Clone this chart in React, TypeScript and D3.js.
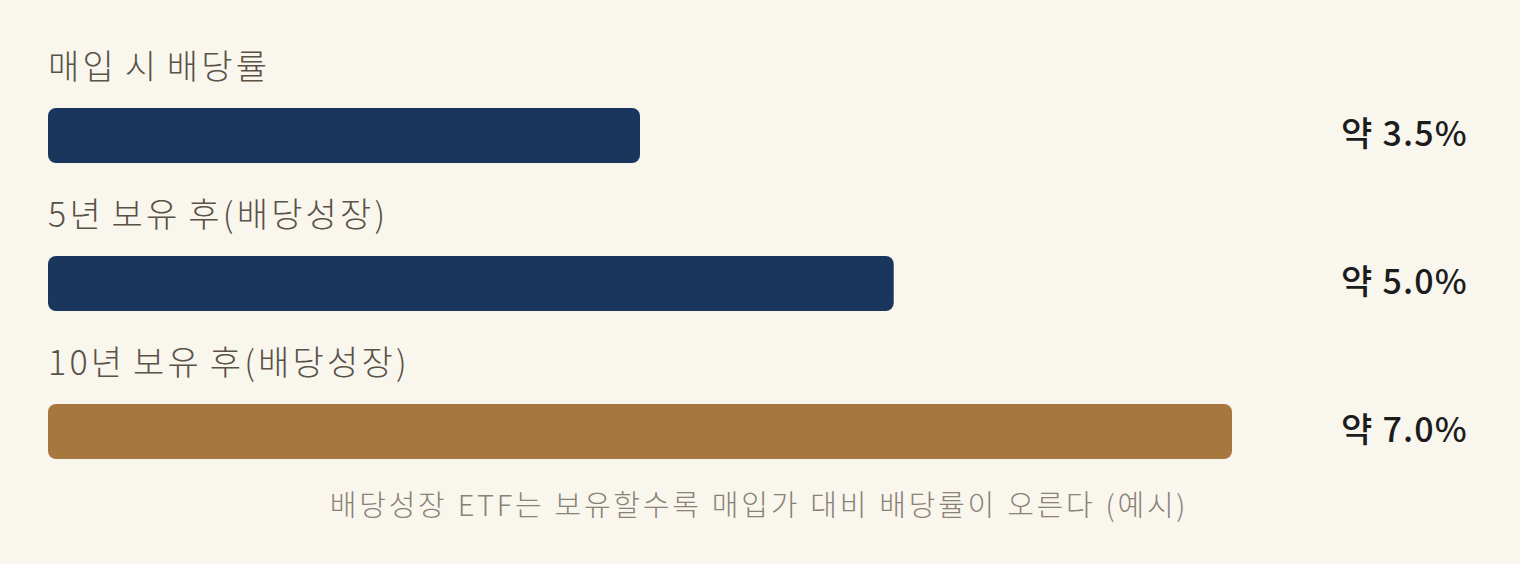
import React, { useEffect, useRef } from 'react';
import * as d3 from 'd3';

// chart data
const labels = ['매입 시 배당률', '5년 보유 후(배당성장)', '10년 보유 후(배당성장)'];
const values = [3.5, 5.0, 7.0];
const valueLabels = ['약 3.5%', '약 5.0%', '약 7.0%'];
const barColors = ['#1a365d', '#1a365d', '#a8763f'];
const caption = '배당성장 ETF는 보유할수록 매입가 대비 배당률이 오른다 (예시)';

const WIDTH = 1520;
const HEIGHT = 564;
const FONT = '"Noto Sans CJK KR", "Noto Sans", sans-serif';

const App: React.FC = () => {
  const svgRef = useRef<SVGSVGElement>(null);

  useEffect(() => {
    if (!svgRef.current) return;
    document.body.style.margin = '0';

    const svg = d3.select(svgRef.current);
    svg.selectAll('*').remove();

    svg.append('rect')
      .attr('width', WIDTH)
      .attr('height', HEIGHT)
      .attr('fill', '#f9f6ee');

    const x = d3.scaleLinear().domain([0, 7]).range([48, 1232]);
    // each row: label band then bar band
    const row = d3.scaleBand<number>()
      .domain(d3.range(values.length))
      .range([40, 484])
      .paddingInner(0);

    const barH = 55;
    const barOffset = 68;

    const g = svg.selectAll('g.row')
      .data(values)
      .enter()
      .append('g')
      .attr('class', 'row')
      .attr('transform', (_, i) => `translate(0,${row(i)})`);

    g.append('text')
      .attr('x', 48)
      .attr('y', 39)
      .attr('font-family', FONT)
      .attr('font-size', 34)
      .attr('font-weight', 300)
      .attr('letter-spacing', 3.2)
      .attr('word-spacing', -3)
      .attr('fill', '#5a5147')
      .text((_, i) => labels[i]);

    g.append('rect')
      .attr('x', x(0))
      .attr('y', barOffset)
      .attr('width', d => x(d) - x(0))
      .attr('height', barH)
      .attr('rx', 8)
      .attr('fill', (_, i) => barColors[i]);

    g.append('text')
      .attr('x', 1468)
      .attr('y', barOffset + barH / 2)
      .attr('dy', '0.32em')
      .attr('text-anchor', 'end')
      .attr('font-family', FONT)
      .attr('font-size', 34)
      .attr('font-weight', 500)
      .attr('letter-spacing', 1.2)
      .attr('fill', '#1c1c1c')
      .text((_, i) => valueLabels[i]);

    svg.append('text')
      .attr('x', 759)
      .attr('y', 516)
      .attr('text-anchor', 'middle')
      .attr('font-family', FONT)
      .attr('font-size', 29)
      .attr('font-weight', 300)
      .attr('letter-spacing', 2.75)
      .attr('word-spacing', 1)
      .attr('fill', '#8a8177')
      .text(caption);
  }, []);

  return (
    <svg
      ref={svgRef}
      width={WIDTH}
      height={HEIGHT}
      style={{ display: 'block', position: 'absolute', top: 0, left: 0 }}
    />
  );
};

export default App;
